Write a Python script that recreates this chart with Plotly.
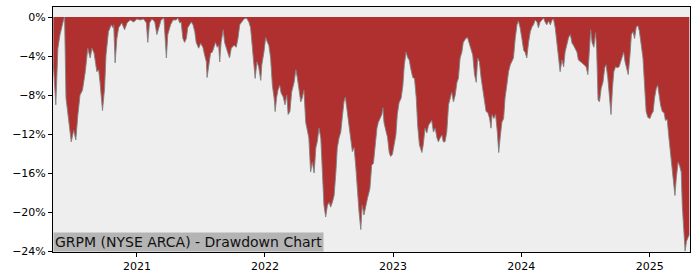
import plotly.graph_objects as go

# ---- data ----
dates = [
    "2020-05-08", "2020-05-15", "2020-05-21", "2020-05-27", "2020-06-06", "2020-06-09", "2020-06-13",
    "2020-06-18", "2020-06-25", "2020-06-28", "2020-07-05", "2020-07-11", "2020-07-17", "2020-07-23",
    "2020-07-30", "2020-08-07", "2020-08-14", "2020-08-21", "2020-08-26", "2020-09-01", "2020-09-09",
    "2020-09-14", "2020-09-18", "2020-09-25", "2020-10-01", "2020-10-05", "2020-10-12", "2020-10-20",
    "2020-10-25", "2020-10-27", "2020-10-31", "2020-11-05", "2020-11-10", "2020-11-19", "2020-11-27",
    "2020-12-04", "2020-12-13", "2020-12-23",
    "2021-01-01", "2021-01-10", "2021-01-20", "2021-01-28", "2021-02-01", "2021-02-06", "2021-02-13",
    "2021-02-21", "2021-02-27", "2021-03-06", "2021-03-11", "2021-03-19", "2021-03-23", "2021-03-26",
    "2021-03-30", "2021-04-07", "2021-04-14", "2021-04-23", "2021-04-28", "2021-05-03", "2021-05-07",
    "2021-05-12", "2021-05-17", "2021-05-22", "2021-05-26", "2021-05-31", "2021-06-05", "2021-06-10",
    "2021-06-15", "2021-06-19", "2021-06-26", "2021-07-02", "2021-07-08", "2021-07-13", "2021-07-18",
    "2021-07-20", "2021-07-25", "2021-07-30", "2021-08-04", "2021-08-09", "2021-08-13", "2021-08-18",
    "2021-08-22", "2021-08-25", "2021-08-29", "2021-09-04", "2021-09-08", "2021-09-13", "2021-09-18",
    "2021-09-22", "2021-09-27", "2021-10-05", "2021-10-11", "2021-10-16", "2021-10-21", "2021-10-27",
    "2021-11-02", "2021-11-09", "2021-11-16", "2021-11-21", "2021-11-26", "2021-12-01", "2021-12-04",
    "2021-12-09", "2021-12-14", "2021-12-20", "2021-12-23", "2021-12-29",
    "2022-01-03", "2022-01-08", "2022-01-12", "2022-01-17", "2022-01-22", "2022-01-27", "2022-01-30",
    "2022-02-03", "2022-02-07", "2022-02-12", "2022-02-16", "2022-02-22", "2022-02-27", "2022-03-04",
    "2022-03-08", "2022-03-13", "2022-03-18", "2022-03-25", "2022-03-30", "2022-04-03", "2022-04-08",
    "2022-04-13", "2022-04-17", "2022-04-22", "2022-04-27", "2022-05-02", "2022-05-06", "2022-05-11",
    "2022-05-16", "2022-05-21", "2022-05-26", "2022-05-30", "2022-06-04", "2022-06-09", "2022-06-13",
    "2022-06-18", "2022-06-23", "2022-06-28", "2022-07-03", "2022-07-07", "2022-07-12", "2022-07-17",
    "2022-07-22", "2022-07-26", "2022-07-31", "2022-08-05", "2022-08-09", "2022-08-14", "2022-08-18",
    "2022-08-24", "2022-08-29", "2022-09-02", "2022-09-07", "2022-09-12", "2022-09-17", "2022-09-21",
    "2022-09-26", "2022-10-01", "2022-10-05", "2022-10-10", "2022-10-15", "2022-10-20", "2022-10-27",
    "2022-11-01", "2022-11-06", "2022-11-11", "2022-11-16", "2022-11-20", "2022-11-25", "2022-11-30",
    "2022-12-03", "2022-12-06", "2022-12-11", "2022-12-16", "2022-12-21", "2022-12-25", "2022-12-30",
    "2023-01-04", "2023-01-09", "2023-01-13", "2023-01-18", "2023-01-24", "2023-01-29", "2023-02-02",
    "2023-02-07", "2023-02-12", "2023-02-16", "2023-02-21", "2023-02-26", "2023-03-03", "2023-03-08",
    "2023-03-12", "2023-03-17", "2023-03-24", "2023-03-28", "2023-04-02", "2023-04-07", "2023-04-12",
    "2023-04-17", "2023-04-21", "2023-04-26", "2023-05-01", "2023-05-06", "2023-05-10", "2023-05-15",
    "2023-05-20", "2023-05-24", "2023-05-29", "2023-06-03", "2023-06-08", "2023-06-13", "2023-06-17",
    "2023-06-22", "2023-06-27", "2023-07-02", "2023-07-06", "2023-07-11", "2023-07-16", "2023-07-20",
    "2023-07-27", "2023-08-01", "2023-08-06", "2023-08-11", "2023-08-16", "2023-08-21", "2023-08-26",
    "2023-08-30", "2023-09-04", "2023-09-09", "2023-09-14", "2023-09-18", "2023-09-23", "2023-09-28",
    "2023-10-03", "2023-10-07", "2023-10-10", "2023-10-15", "2023-10-20", "2023-10-25", "2023-10-29",
    "2023-11-02", "2023-11-07", "2023-11-12", "2023-11-16", "2023-11-21", "2023-11-26", "2023-12-01",
    "2023-12-05", "2023-12-10", "2023-12-15", "2023-12-20", "2023-12-24", "2023-12-29",
    "2024-01-03", "2024-01-08", "2024-01-12", "2024-01-17", "2024-01-22", "2024-01-27", "2024-02-01",
    "2024-02-05", "2024-02-10", "2024-02-15", "2024-02-19", "2024-02-24", "2024-02-29", "2024-03-05",
    "2024-03-09", "2024-03-14", "2024-03-19", "2024-03-24", "2024-03-29", "2024-04-02", "2024-04-07",
    "2024-04-12", "2024-04-16", "2024-04-21", "2024-04-26", "2024-05-01", "2024-05-05", "2024-05-10",
    "2024-05-15", "2024-05-20", "2024-05-25", "2024-05-29", "2024-06-03", "2024-06-08", "2024-06-12",
    "2024-06-17", "2024-06-22", "2024-06-28", "2024-07-04", "2024-07-09", "2024-07-14", "2024-07-17",
    "2024-07-21", "2024-07-26", "2024-07-31", "2024-08-03", "2024-08-07", "2024-08-11", "2024-08-16",
    "2024-08-21", "2024-08-26", "2024-08-30", "2024-09-04", "2024-09-09", "2024-09-13", "2024-09-17",
    "2024-09-21", "2024-09-26", "2024-10-01", "2024-10-06", "2024-10-10", "2024-10-15", "2024-10-19",
    "2024-10-23", "2024-10-27", "2024-11-01", "2024-11-06", "2024-11-10", "2024-11-15", "2024-11-19",
    "2024-11-24", "2024-11-29", "2024-12-03", "2024-12-08", "2024-12-13", "2024-12-18", "2024-12-22",
    "2024-12-27",
    "2025-01-02", "2025-01-06", "2025-01-11", "2025-01-15", "2025-01-20", "2025-01-24", "2025-01-28",
    "2025-02-01", "2025-02-06", "2025-02-11", "2025-02-15", "2025-02-20", "2025-02-25", "2025-03-02",
    "2025-03-07", "2025-03-11", "2025-03-14", "2025-03-18", "2025-03-23", "2025-03-27", "2025-04-01",
    "2025-04-04", "2025-04-09", "2025-04-12", "2025-04-16", "2025-04-20", "2025-04-24",
]

drawdown_pct = [
    -4.8, -9.0, -3.2, -1.8, -0.3, 0.0, -8.3,
    -9.7, -11.4, -12.8, -11.6, -12.6, -10.0, -8.0,
    -7.5, -5.6, -3.2, -4.2, -3.2, -3.7, -5.6,
    -5.4, -6.7, -9.6, -7.3, -3.9, -1.5, -0.8,
    -1.1, -0.8, -4.7, -2.2, -1.1, -0.6, -1.3,
    -0.6, -0.3, -0.5,
    -0.2, -0.3, -0.2, -0.6, -2.6, -0.6, -0.2,
    -0.5, -1.8, -1.0, -0.3, -0.1, -2.2, -4.2,
    -1.8, -0.8, -0.3, -0.3, -0.1, -0.6, -0.5,
    -2.2, -2.6, -2.2, -1.1, -0.8, -0.5, -0.8,
    -1.5, -2.6, -3.2, -2.7, -3.1, -3.9, -4.6,
    -6.2, -4.9, -3.7, -3.6, -3.1, -2.6, -3.1,
    -2.9, -4.6, -2.6, -1.3, -2.6, -3.2, -3.7,
    -4.2, -3.2, -2.9, -3.1, -2.2, -0.8, -0.5,
    -0.2, -0.1, -0.5, -1.1, -3.2, -5.2, -6.3,
    -4.6, -5.1, -6.5, -4.9, -3.6,
    -2.1, -2.6, -2.9, -4.2, -7.0, -8.3, -9.7,
    -8.3, -7.5, -7.0, -7.8, -8.2, -9.0, -8.0,
    -10.0, -9.7, -7.7, -6.7, -5.4, -6.2, -7.3,
    -8.7, -8.3, -7.5, -10.8, -11.6, -12.4, -15.9,
    -14.9, -16.0, -13.4, -12.8, -11.4, -12.4, -15.9,
    -19.3, -20.5, -19.3, -19.0, -19.5, -19.0, -18.3,
    -15.9, -13.4, -12.4, -11.8, -10.4, -8.7, -8.2,
    -9.7, -11.1, -12.4, -13.8, -13.4, -15.5, -17.9,
    -20.0, -21.8, -19.3, -20.3, -19.3, -18.6, -17.6,
    -15.2, -15.0, -12.8, -11.4, -10.8, -10.4, -10.0,
    -9.3, -10.8, -11.6, -12.3, -13.9, -14.3, -14.1,
    -13.1, -12.1, -10.0, -8.8, -8.3, -7.0, -4.9,
    -3.6, -4.2, -4.4, -5.4, -6.2, -6.3, -8.3,
    -11.1, -13.1, -13.9, -13.1, -11.4, -11.9, -11.1,
    -10.8, -10.6, -11.8, -11.4, -12.4, -12.8, -12.4,
    -12.1, -12.8, -12.8, -11.8, -9.0, -8.3, -7.7,
    -8.7, -8.0, -6.7, -6.3, -4.2, -3.6, -2.6,
    -2.2, -2.1, -2.7, -3.2, -3.9, -5.9, -6.7,
    -4.2, -4.6, -6.3, -7.7, -8.7, -9.7, -9.8,
    -10.4, -11.4, -10.0, -10.4, -10.0, -11.8, -13.9,
    -12.4, -10.8, -10.4, -8.3, -7.0, -5.6, -4.9,
    -4.6, -4.2, -2.2, -0.8, -0.4, -1.1,
    -2.2, -3.4, -3.6, -4.2, -2.6, -1.5, -1.0,
    -0.8, -0.3, -0.5, -1.1, -0.5, -0.3, -0.1,
    -0.5, -0.8, -0.4, -0.8, -0.3, -0.2, -1.1,
    -2.9, -4.2, -5.6, -4.4, -5.1, -3.6, -2.9,
    -2.1, -1.8, -2.7, -2.9, -3.2, -3.6, -4.4,
    -4.6, -4.7, -4.9, -5.1, -5.9, -3.2, -1.3,
    -2.6, -3.1, -1.6, -3.2, -8.5, -8.7, -7.3,
    -6.7, -5.2, -4.9, -6.3, -8.7, -10.0, -7.3,
    -5.6, -5.1, -5.2, -5.1, -4.7, -4.2, -3.6,
    -4.6, -5.1, -5.9, -3.9, -1.8, -1.5, -2.2,
    -1.0, -0.9, -1.5, -2.9, -4.2, -7.3, -9.7,
    -10.3,
    -10.4, -10.0, -9.7, -8.3, -7.3, -7.0, -8.0,
    -9.0, -9.7, -9.8, -10.6, -10.5, -12.4, -14.2,
    -16.5, -17.3, -18.3, -16.5, -14.9, -15.2, -15.9,
    -19.3, -22.7, -24.0, -23.0, -22.7, -22.3,
]

y_tick_values = [0, -4, -8, -12, -16, -20, -24]
y_tick_labels = ["0%", "\u22124%", "\u22128%", "\u221212%", "\u221216%", "\u221220%", "\u221224%"]
x_tick_values = ["2021-01-01", "2022-01-01", "2023-01-01", "2024-01-01", "2025-01-01"]
x_tick_labels = ["2021", "2022", "2023", "2024", "2025"]
title_text = "GRPM (NYSE ARCA) - Drawdown Chart"

fig = go.Figure()
fig.add_trace(go.Scatter(
    x=dates, y=drawdown_pct,
    mode="lines",
    fill="tozeroy",
    fillcolor="#b03030",
    line=dict(color="rgba(130,130,130,0.9)", width=1),
    hoverinfo="skip",
    showlegend=False,
))

axis_font = dict(family="DejaVu Sans", size=11, color="#000000")

fig.update_layout(
    width=700, height=280,
    margin=dict(l=53, r=10, t=7, b=28),
    paper_bgcolor="#ffffff",
    plot_bgcolor="#eeeeee",
    font=axis_font,
    xaxis=dict(
        range=["2020-05-07", "2025-04-26"],
        tickvals=x_tick_values, ticktext=x_tick_labels,
        ticks="outside", ticklen=4, tickcolor="#000000",
        showline=True, linecolor="#000000", linewidth=1, mirror=True,
        showgrid=False, zeroline=False, tickfont=axis_font,
    ),
    yaxis=dict(
        range=[-24.1, 1.03],
        tickvals=y_tick_values, ticktext=y_tick_labels,
        ticks="outside", ticklen=4, tickcolor="#000000",
        showline=True, linecolor="#000000", linewidth=1, mirror=True,
        showgrid=False, zeroline=False, tickfont=axis_font,
    ),
    annotations=[dict(
        text=title_text,
        xref="paper", yref="paper", x=0, y=0,
        xanchor="left", yanchor="bottom",
        showarrow=False,
        font=dict(family="DejaVu Sans", size=14, color="#111111"),
        bgcolor="#b4b4b4",
        borderpad=1,
    )],
)

fig.write_html("out.html")
